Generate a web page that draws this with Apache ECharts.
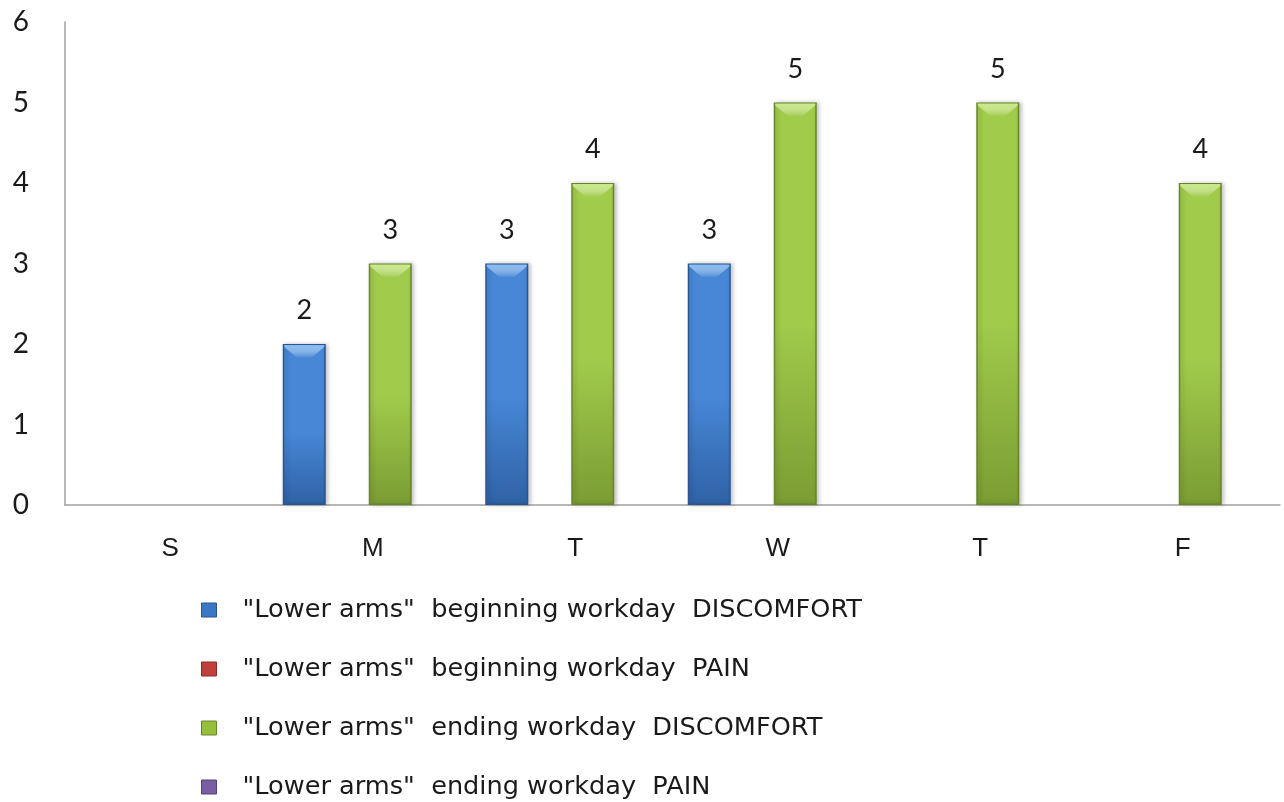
<!DOCTYPE html>
<html>
<head>
<meta charset="utf-8">
<script src="https://cdn.jsdelivr.net/npm/echarts@6/dist/echarts.min.js"></script>
<style>
  html, body { margin: 0; padding: 0; background: #ffffff; }
  #chart { width: 1284px; height: 802px; }
</style>
</head>
<body>
<div id="chart"></div>
<script>
// Weekday categories
const days = ['S', 'M', 'T', 'W', 'T', 'F'];

// Series names
const seriesNames = [
  '"Lower arms"  beginning workday  DISCOMFORT',
  '"Lower arms"  beginning workday  PAIN',
  '"Lower arms"  ending workday  DISCOMFORT',
  '"Lower arms"  ending workday  PAIN'
];

// Reported counts per day ('-' = no entry)
const beginDiscomfort = ['-', 2, 3, 3, '-', '-'];
const beginPain       = ['-', '-', '-', '-', '-', '-'];
const endDiscomfort   = ['-', 3, 4, 5, 5, 4];
const endPain         = ['-', '-', '-', '-', '-', '-'];

// Y-axis ticks
const yTicks = [0, 1, 2, 3, 4, 5, 6];

// Bar body: lighter at the top, deeper towards the base
function shade(top, bottom) {
  return new echarts.graphic.LinearGradient(0, 0, 0, 1, [
    { offset: 0, color: top },
    { offset: 0.55, color: top },
    { offset: 1, color: bottom }
  ]);
}

const palette = [
  { fill: shade('#4787d6', '#2f62a6'), border: '#2a5590', cap: '#85baf2', legend: '#3a78c6' },
  { fill: shade('#cd5450', '#9c3532'), border: '#8a2d2a', cap: '#ee9390', legend: '#c0403c' },
  { fill: shade('#a0cb4b', '#7b9c33'), border: '#67862a', cap: '#c9ea85', legend: '#94bf3c' },
  { fill: shade('#876ab0', '#5d4684'), border: '#52407a', cap: '#b8a0da', legend: '#7a5ea3' }
];

const dataSets = [beginDiscomfort, beginPain, endDiscomfort, endPain];

const labelFont = 'Lato, "Open Sans", sans-serif';
const textFont = '"DejaVu Sans", Verdana, sans-serif';
const catFont = '"Liberation Sans", Arial, sans-serif';

const BAR_W = 43;

// Bar bodies with value labels
const bars = dataSets.map((d, i) => ({
  name: seriesNames[i],
  type: 'bar',
  data: d,
  barWidth: BAR_W,
  barGap: '0%',
  itemStyle: {
    color: palette[i].fill,
    borderColor: palette[i].border,
    borderWidth: 1.5,
    shadowColor: 'rgba(0,0,0,0.22)',
    shadowBlur: 4,
    shadowOffsetX: 2,
    shadowOffsetY: 0
  },
  label: {
    show: true,
    position: 'top',
    distance: 20,
    fontFamily: labelFont,
    fontSize: 27,
    color: '#1a1a1a'
  },
  z: 2
}));

// Light bevel on the top of each bar
const caps = dataSets.map((d, i) => ({
  name: seriesNames[i],
  type: 'pictorialBar',
  data: d,
  barWidth: BAR_W,
  barGap: '0%',
  symbol: 'path://M0,0 L43,0 L43,2 L29,13 L14,13 L0,2 Z',
  symbolSize: [BAR_W - 3, 13],
  symbolPosition: 'end',
  symbolOffset: [0, 1],
  itemStyle: {
    color: new echarts.graphic.LinearGradient(0, 0, 0, 1, [
      { offset: 0, color: palette[i].cap },
      { offset: 1, color: 'rgba(255,255,255,0)' }
    ])
  },
  label: { show: false },
  silent: true,
  legendHoverLink: false,
  z: 3
}));

const chart = echarts.init(document.getElementById('chart'), null, { renderer: 'canvas' });
chart.setOption({
  animation: false,
  backgroundColor: '#ffffff',
  grid: { left: 65, right: 4, top: 22, bottom: 297, containLabel: false },
  legend: {
    orient: 'vertical',
    left: 201,
    top: 597,
    padding: 0,
    itemWidth: 15,
    itemHeight: 14,
    itemGap: 33,
    icon: 'rect',
    data: seriesNames.map((n, i) => ({
      name: n,
      itemStyle: { color: palette[i].legend, borderColor: palette[i].border, borderWidth: 1 }
    })),
    textStyle: {
      fontFamily: textFont,
      fontSize: 25.6,
      lineHeight: 26,
      color: '#1a1a1a',
      padding: [0, 0, 0, 21]
    }
  },
  xAxis: {
    type: 'category',
    data: days,
    axisLine: { show: true, lineStyle: { color: '#a0a0a0', width: 1.5 } },
    axisTick: { show: false },
    axisLabel: {
      fontFamily: catFont,
      fontSize: 26,
      color: '#1a1a1a',
      margin: 31,
      padding: [0, 0, 0, 8]
    }
  },
  yAxis: {
    type: 'value',
    min: 0,
    max: 6,
    interval: 1,
    data: yTicks,
    splitLine: { show: false },
    axisLine: { show: true, lineStyle: { color: '#a0a0a0', width: 1.5 } },
    axisTick: { show: false },
    axisLabel: {
      fontFamily: labelFont,
      fontSize: 28,
      color: '#1a1a1a',
      margin: 36
    }
  },
  series: bars.concat(caps)
});
</script>
</body>
</html>
